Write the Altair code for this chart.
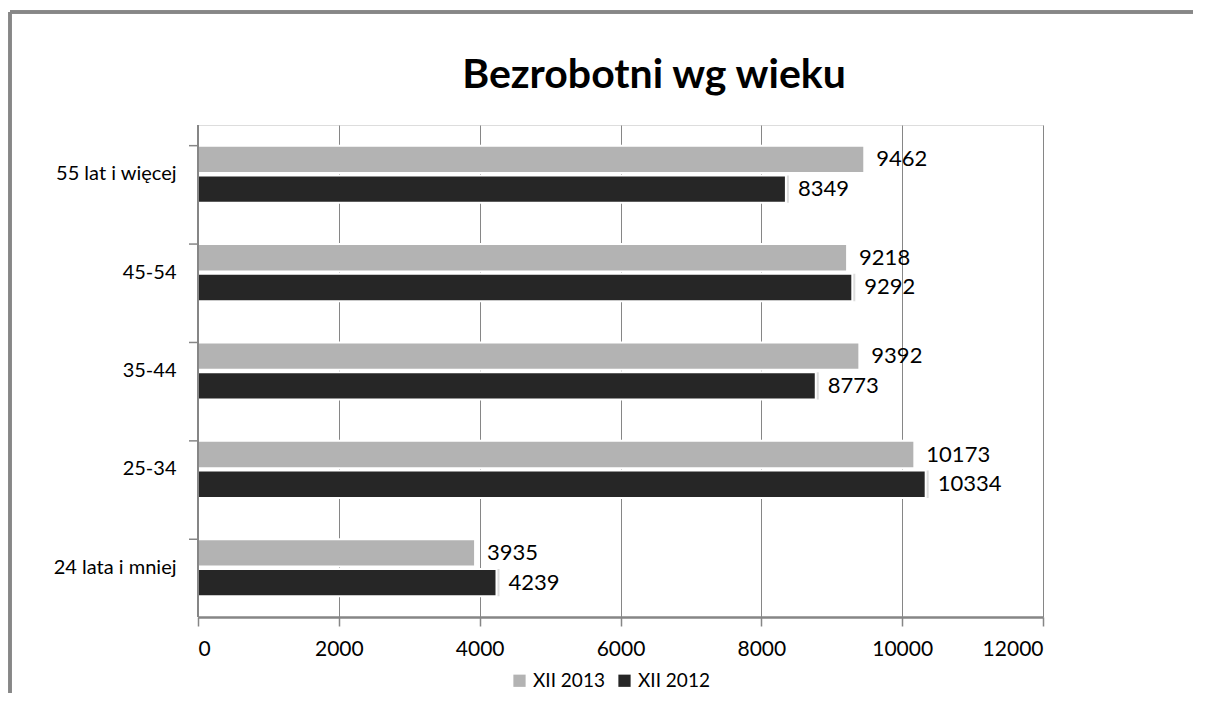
import altair as alt
import pandas as pd

title_text = "Bezrobotni wg wieku"
categories = ["55 lat i więcej", "45-54", "35-44", "25-34", "24 lata i mniej"]
series = ["XII 2013", "XII 2012"]
values_2013 = [9462, 9218, 9392, 10173, 3935]
values_2012 = [8349, 9292, 8773, 10334, 4239]
x_ticks = [0, 2000, 4000, 6000, 8000, 10000, 12000]
colors = ["#b3b3b3", "#262626"]

rows = []
for c, v in zip(categories, values_2013):
    rows.append({"grupa": c, "okres": series[0], "liczba": v})
for c, v in zip(categories, values_2012):
    rows.append({"grupa": c, "okres": series[1], "liczba": v})
df = pd.DataFrame(rows)
cat_df = pd.DataFrame({"grupa": categories})
title_df = pd.DataFrame({"t": [title_text]})

FONT = "Lato"
W, H = 845, 492

yscale = alt.Scale(domain=categories, paddingInner=0.42, paddingOuter=0.21)
yoff_scale = alt.Scale(domain=series, paddingInner=0.08)

y_enc = alt.Y("grupa:N", scale=yscale, sort=categories,
              axis=alt.Axis(title=None, ticks=False, domain=False,
                            labelFont=FONT, labelFontSize=20, labelColor="#000",
                            labelPadding=22))
yoff = alt.YOffset("okres:N", scale=yoff_scale, sort=series)
x_enc = alt.X("liczba:Q", scale=alt.Scale(domain=[0, 12000], nice=False),
              axis=alt.Axis(title=None, values=x_ticks, format="d",
                            grid=True, gridColor="#868686", gridWidth=1,
                            domainColor="#868686", domainWidth=2.5,
                            tickColor="#868686", tickSize=9, tickWidth=1.5,
                            labelFont=FONT, labelFontSize=21, labelColor="#000",
                            labelPadding=12))
color_enc = alt.Color("okres:N", scale=alt.Scale(domain=series, range=colors),
                      sort=series,
                      legend=alt.Legend(title=None, orient="none", direction="horizontal",
                                        legendX=312, legendY=546, symbolType="square",
                                        symbolSize=150, symbolStrokeWidth=0,
                                        labelFont=FONT, labelFontSize=19, labelColor="#000",
                                        columnPadding=10, labelOffset=4))

base = alt.Chart(df)

shadow = base.transform_filter(alt.datum.okres == series[1]).mark_bar(
    color="#d4d4d4", opacity=0.8, xOffset=3
).encode(x=x_enc, y=y_enc, yOffset=yoff)

bars = base.mark_bar(stroke="white", strokeWidth=2).encode(
    x=x_enc, y=y_enc, yOffset=yoff, color=color_enc
)

labels = base.mark_text(align="left", baseline="middle", dx=12, font=FONT,
                        fontSize=22, color="#000").encode(
    x=x_enc, y=y_enc, yOffset=yoff, text=alt.Text("liczba:Q", format="d")
)

yticks = alt.Chart(cat_df).mark_rule(color="#868686", strokeWidth=1.5).encode(
    y=alt.Y("grupa:N", scale=yscale, sort=categories, bandPosition=0),
    x=alt.value(-9), x2=alt.value(0)
)

yaxis_line = alt.Chart(cat_df).mark_rule(color="#868686", strokeWidth=1.5).encode(
    x=alt.value(0), y=alt.value(0), y2=alt.value(H)
)

border_top = alt.Chart(cat_df).mark_rule(color="#878787", strokeWidth=3).encode(
    x=alt.value(-188), x2=alt.value(1010), y=alt.value(-113)
)
border_left = alt.Chart(cat_df).mark_rule(color="#878787", strokeWidth=3).encode(
    x=alt.value(-188), y=alt.value(-113), y2=alt.value(590)
)

title = alt.Chart(title_df).mark_text(align="center", baseline="alphabetic", font=FONT,
                                      fontSize=41, fontWeight="bold", color="#000").encode(
    text="t:N", x=alt.value(456), y=alt.value(-37)
)

chart = alt.layer(border_top, border_left, title, shadow, bars, labels, yticks, yaxis_line).properties(
    width=W, height=H,
    autosize=alt.AutoSizeParams(type="none"),
    padding={"left": 190, "top": 117, "right": 150, "bottom": 76},
).configure_view(stroke=None).configure(background="white")

chart.save("out.html", embed_options={"renderer": "svg", "actions": False})
